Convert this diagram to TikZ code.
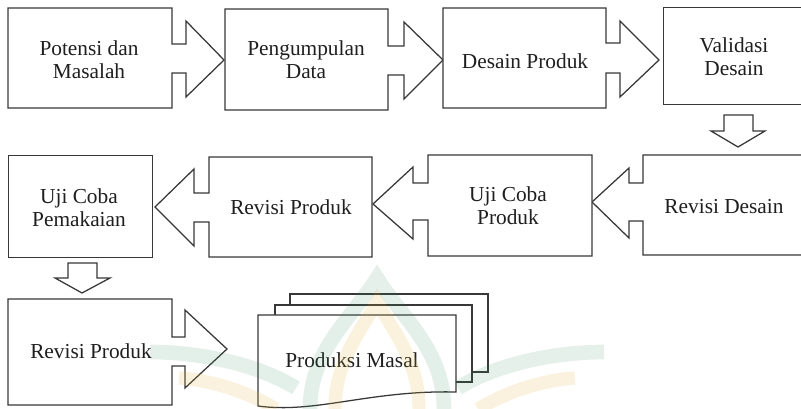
\documentclass[tikz,border=0pt]{standalone}
\usepackage{fontspec}
\setmainfont{Liberation Serif}
\definecolor{linegray}{HTML}{383838}
\definecolor{wmgreen}{HTML}{2E8B57}
\definecolor{wmyellow}{HTML}{E0B030}
\begin{document}
\begin{tikzpicture}[x=0.75pt,y=-0.75pt,
  outline/.style={draw=linegray,line width=0.95pt,line join=miter,fill=white},
  caption/.style={font=\fontsize{16}{17.5}\selectfont,text=black!88,align=center,inner sep=0pt},
  wmgreenband/.style={draw=wmgreen,draw opacity=0.13,line width=11pt},
  wmyellowband/.style={draw=wmyellow,draw opacity=0.16,line width=10pt}]
\useasboundingbox (0,0) rectangle (801,409);

% top row
\draw[outline] (8,8) -- (172,8) -- (172,44) -- (186,44) -- (186,21) -- (224,60)
  -- (186,97) -- (186,73) -- (172,73) -- (172,108) -- (8,108) -- cycle;
\draw[outline] (225,9) -- (388,9) -- (388,46) -- (404,46) -- (404,22) -- (443,60)
  -- (404,99) -- (404,75) -- (388,75) -- (388,110) -- (225,110) -- cycle;
\draw[outline] (443,8) -- (606,8) -- (606,43) -- (620,43) -- (620,21) -- (659,60)
  -- (620,97) -- (620,73) -- (606,73) -- (606,108) -- (443,108) -- cycle;
\draw[outline] (803,7.5) -- (663.5,7.5) -- (663.5,104.5) -- (803,104.5);

% arrow down to the second row
\draw[outline] (724,115) -- (753,115) -- (753,131) -- (765,131) -- (738,147)
  -- (711,131) -- (724,131) -- cycle;

% second row, running right to left
\draw[outline] (803,155) -- (643,155) -- (643,183) -- (629,183) -- (629,168) -- (592,202)
  -- (629,238) -- (629,221) -- (643,221) -- (643,255) -- (803,255) -- cycle;
\draw[outline] (592,155) -- (428,155) -- (428,183) -- (413,183) -- (413,167) -- (373,204)
  -- (413,239) -- (413,220) -- (428,220) -- (428,256) -- (592,256) -- cycle;
\draw[outline] (372,157) -- (209,157) -- (209,193) -- (194,193) -- (194,169) -- (155,207)
  -- (194,246) -- (194,222) -- (209,222) -- (209,257) -- (372,257) -- cycle;
\draw[outline] (8.5,155.5) -- (152.5,155.5) -- (152.5,257.5) -- (8.5,257.5) -- cycle;

% arrow down to the third row
\draw[outline] (68,263) -- (97,263) -- (97,278) -- (110,278) -- (82,293)
  -- (55,278) -- (68,278) -- cycle;

% third row
\draw[outline] (8,299) -- (172,299) -- (172,337) -- (185,337) -- (185,310) -- (227,349)
  -- (185,388) -- (185,366) -- (172,366) -- (172,405) -- (8,405) -- cycle;

% stacked documents
\draw[outline] (290,294) -- (488,294) -- (488,372) -- (290,372) -- cycle;
\draw[outline] (275,305) -- (472,305) -- (472,382) -- (275,382) -- cycle;
\draw[outline] (258,315) -- (456,315) -- (456,392)
  .. controls (370,390) and (315,414) .. (258,406) -- cycle;

% labels
\node[caption] (potensi) at (89,60) {Potensi dan\\Masalah};
\node[caption] (pengumpulan) at (306,60) {Pengumpulan\\Data};
\node[caption] (desain) at (525,61) {Desain Produk};
\node[caption] (validasi) at (734,57) {Validasi\\Desain};
\node[caption] (revdesain) at (724,207) {Revisi Desain};
\node[caption] (ujiproduk) at (508,206) {Uji Coba\\Produk};
\node[caption] (revproduk) at (291,207) {Revisi Produk};
\node[caption] (ujipakai) at (79,208) {Uji Coba\\Pemakaian};
\node[caption] (revproduk2) at (91,351) {Revisi Produk};
\node[caption] (masal) at (352,360) {Produksi Masal};

% faint ornament laid over the lower part
\draw[wmgreenband] (310,409) .. controls (310,350) and (352,318) .. (377,278)
  .. controls (402,318) and (444,350) .. (444,409);
\draw[wmyellowband] (335,409) .. controls (335,362) and (360,332) .. (377,302)
  .. controls (394,332) and (419,362) .. (419,409);
\draw[wmgreenband] (458,388) .. controls (500,362) and (560,352) .. (604,352);
\draw[wmgreenband] (296,388) .. controls (254,362) and (194,352) .. (150,352);
\draw[wmyellowband] (478,409) .. controls (510,390) and (545,380) .. (575,378);
\draw[wmyellowband] (276,409) .. controls (244,390) and (209,380) .. (179,378);
\end{tikzpicture}
\end{document}
